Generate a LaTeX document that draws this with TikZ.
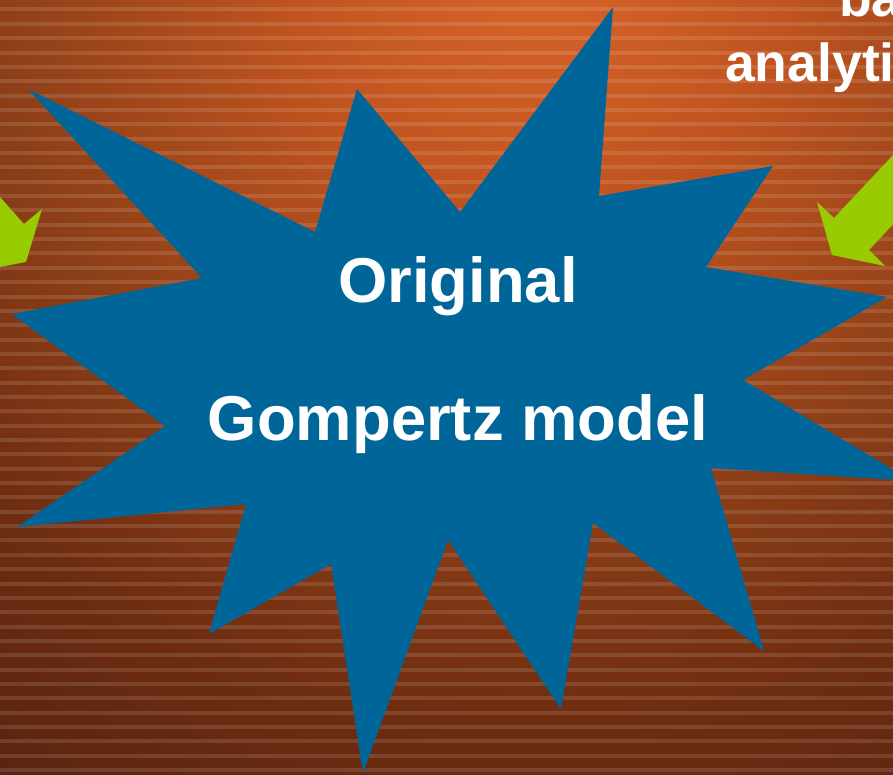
\documentclass[tikz,border=0pt]{standalone}
\usepackage{fontspec}
\setmainfont{Liberation Sans}

\definecolor{burstblue}{RGB}{0,102,153}
\definecolor{arrowgreen}{RGB}{153,204,0}

% warm orange glow fading to dark brown
\pgfdeclareradialshading{glow}{\pgfpoint{0bp}{0bp}}{%
  rgb(0bp)=(0.847,0.396,0.165);
  rgb(6.25bp)=(0.753,0.329,0.122);
  rgb(13.5bp)=(0.557,0.247,0.090);
  rgb(19.25bp)=(0.431,0.173,0.063);
  rgb(24.5bp)=(0.353,0.141,0.063);
  rgb(50bp)=(0.353,0.141,0.063)}

\tikzset{
  headline/.style={text=white, inner sep=0pt, font=\bfseries\fontsize{63.4bp}{76bp}\selectfont},
  sidetext/.style={text=white, inner sep=0pt, font=\bfseries\fontsize{53.5bp}{62bp}\selectfont},
  blockarrow/.style={fill=arrowgreen, draw=none},
  stripe/.style={fill=white, opacity=0.12},
}

\begin{document}
\begin{tikzpicture}[x=1bp, y=-1bp]
\useasboundingbox (0,0) rectangle (893,775);
\clip (0,0) rectangle (893,775);

% background glow and horizontal ribbing
\shade[shading=glow] (540,-40) circle[radius=1000];
\foreach \k in {0,...,53}
  \fill[stripe] (0,{7.5+14.35*\k}) rectangle (893,{11.5+14.35*\k});

% green block arrows pointing at the burst
\fill[blockarrow] (-96,89) -- (24,224) -- (42,209) -- (26,262) -- (-27,272)
  -- (-11,256) -- (-131,121) -- cycle;
\fill[blockarrow] (954,90) -- (834,218) -- (817,202) -- (832,255) -- (885,266)
  -- (869,250) -- (989,122) -- cycle;

% the starburst
\fill[burstblue] (28,89) -- (315,232) -- (357,89) -- (460,212) -- (613,7)
  -- (599,196) -- (773,166) -- (706,267) -- (887,297) -- (743,380)
  -- (912,481) -- (711,468) -- (764,651) -- (593,523) -- (561,709)
  -- (448,540) -- (363,773) -- (331,564) -- (209,634) -- (246,504)
  -- (17,527) -- (165,426) -- (12,314) -- (202,278) -- cycle;

% labels
\node[headline, anchor=base] (orig) at (458,302) {Original};
\node[headline, anchor=base] (gomp) at (458,440) {Gompertz model};
\node[sidetext, anchor=base west] (based) at (839,17) {ba};
\node[sidetext, anchor=base west] (analyt) at (725,82) {analyti};
\end{tikzpicture}
\end{document}
